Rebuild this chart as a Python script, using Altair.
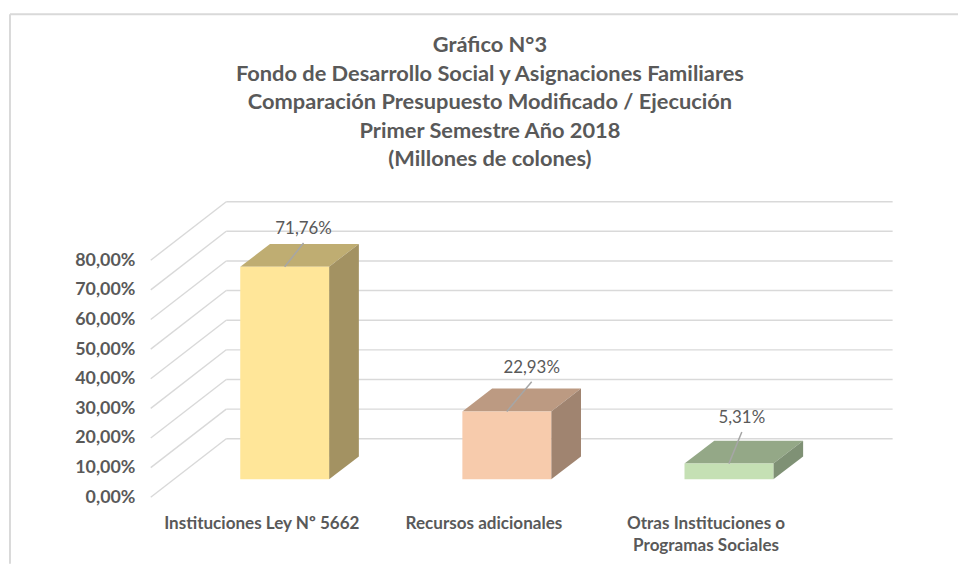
import altair as alt
import pandas as pd

TITLE_LINES = ["Gráfico N°3",
               "Fondo de Desarrollo Social y Asignaciones Familiares",
               "Comparación Presupuesto Modificado / Ejecución",
               "Primer  Semestre Año 2018",
               "(Millones de colones)"]
CATEGORIES = ["Instituciones Ley Nº 5662", "Recursos adicionales",
              "Otras Instituciones o\nProgramas Sociales"]
VALUES = [71.76, 22.93, 5.31]
LABELS = ["71,76%", "22,93%", "5,31%"]
FRONT = ["#FFE699", "#F7CBAC", "#C5E0B4"]
TOP = ["#BFAD72", "#BC9A82", "#94A887"]
SIDE = ["#A39262", "#A08470", "#7F9175"]
TICKS = [0, 10, 20, 30, 40, 50, 60, 70, 80]

# leader-line extents in axis units (category slots, percent points)
LEADER_DX = [0.085, 0.112, 0.058]
LEADER_DY = [8.0, 10.0, 10.7]

# pseudo-3D geometry in axis units
BAR_HALF = 0.2
DEPTH_X = 0.134
DEPTH_Y = 7.7
BASE = 6.03
GRID_FRONT_X = -0.603
GRID_BACK_X = -0.263
GRID_RIGHT_X = 2.737
GRID_RISE = 19.75
LABEL_SHIFT = -0.103
LABEL_Y = -5.9

W, H = 956, 554
XDOM = [-1.2366, 3.03125]
YDOM = [-22.43, 163.0]
TEXT = "#595959"
FONT = "Lato"

xs = alt.Scale(domain=XDOM, nice=False, zero=False)
ys = alt.Scale(domain=YDOM, nice=False, zero=False)
X = alt.X("x:Q", scale=xs, axis=None)
Y = alt.Y("y:Q", scale=ys, axis=alt.Axis(
    title=None, grid=False, domain=False, ticks=False, values=TICKS,
    offset=-126, labelPadding=0, labelFont=FONT, labelFontSize=18,
    labelFontWeight="bold", labelColor=TEXT,
    labelExpr="replace(format(datum.value, '.2f'), '.', ',') + '%'"))

grid_rows = []
for t in TICKS:
    grid_rows.append(dict(x=GRID_FRONT_X, y=t, x2=GRID_BACK_X, y2=t + GRID_RISE))
    grid_rows.append(dict(x=GRID_BACK_X, y=t + GRID_RISE, x2=GRID_RIGHT_X, y2=t + GRID_RISE))
grid = alt.Chart(pd.DataFrame(grid_rows)).mark_rule(color="#D9D9D9", strokeWidth=1.4).encode(
    x=X, y=Y, x2="x2:Q", y2="y2:Q")

face_layers, front_rows, leader_rows, label_rows, cat_rows = [], [], [], [], []
for i, v in enumerate(VALUES):
    l, r = i - BAR_HALF, i + BAR_HALF
    top = BASE + v
    front_rows.append(dict(x=l, x2=r, y=BASE, y2=top, c=FRONT[i]))
    top_face = [dict(x=l, y=top, y2=top),
                dict(x=l + DEPTH_X, y=top, y2=top + DEPTH_Y),
                dict(x=r, y=top, y2=top + DEPTH_Y),
                dict(x=r + DEPTH_X, y=top + DEPTH_Y, y2=top + DEPTH_Y)]
    side_face = [dict(x=r, y=BASE, y2=top),
                 dict(x=r + DEPTH_X, y=BASE + DEPTH_Y, y2=top + DEPTH_Y)]
    face_layers.append(alt.Chart(pd.DataFrame(top_face)).mark_area(color=TOP[i], orient="vertical").encode(
        x=X, y=Y, y2="y2:Q"))
    face_layers.append(alt.Chart(pd.DataFrame(side_face)).mark_area(color=SIDE[i], orient="vertical").encode(
        x=X, y=Y, y2="y2:Q"))
    ex, ey = i + LEADER_DX[i], top + LEADER_DY[i]
    leader_rows.append(dict(x=i, y=top, x2=ex, y2=ey))
    label_rows.append(dict(x=ex, y=ey, t=LABELS[i]))
    cat_rows.append(dict(x=i + LABEL_SHIFT, y=LABEL_Y, t=CATEGORIES[i]))

fronts = alt.Chart(pd.DataFrame(front_rows)).mark_rect().encode(
    x=X, x2="x2:Q", y=Y, y2="y2:Q", color=alt.Color("c:N", scale=None))
leaders = alt.Chart(pd.DataFrame(leader_rows)).mark_rule(color="#A6A6A6", strokeWidth=1.5).encode(
    x=X, y=Y, x2="x2:Q", y2="y2:Q")
labels = alt.Chart(pd.DataFrame(label_rows)).mark_text(
    font=FONT, fontSize=17, color=TEXT, baseline="middle", dy=-14).encode(x=X, y=Y, text="t:N")
cats = alt.Chart(pd.DataFrame(cat_rows)).mark_text(
    font=FONT, fontSize=17.2, fontWeight="bold", color=TEXT, baseline="top",
    lineBreak="\n", lineHeight=23).encode(x=X, y=Y, text="t:N")

frame_v = alt.Chart().mark_rule(color="#D9D9D9", strokeWidth=2).encode(
    x=alt.value(0), y=alt.value(0), y2=alt.value(H))
frame_h = alt.Chart().mark_rule(color="#D9D9D9", strokeWidth=2).encode(
    x=alt.value(0), x2=alt.value(W), y=alt.value(0))

chart = alt.layer(grid, *face_layers, fronts, leaders, labels, cats, frame_v, frame_h).properties(
    width=W, height=H,
    padding={"left": 2, "top": 4, "right": 0, "bottom": 0},
    autosize=alt.AutoSizeParams(type="none"),
    title=alt.Title(text=TITLE_LINES, font=FONT, fontSize=22, fontWeight="bold", color=TEXT,
                    lineHeight=28.7, anchor="middle", dx=6, offset=-159),
).configure_view(stroke=None)

chart.save("out.html", embed_options={"renderer": "svg", "actions": False})
